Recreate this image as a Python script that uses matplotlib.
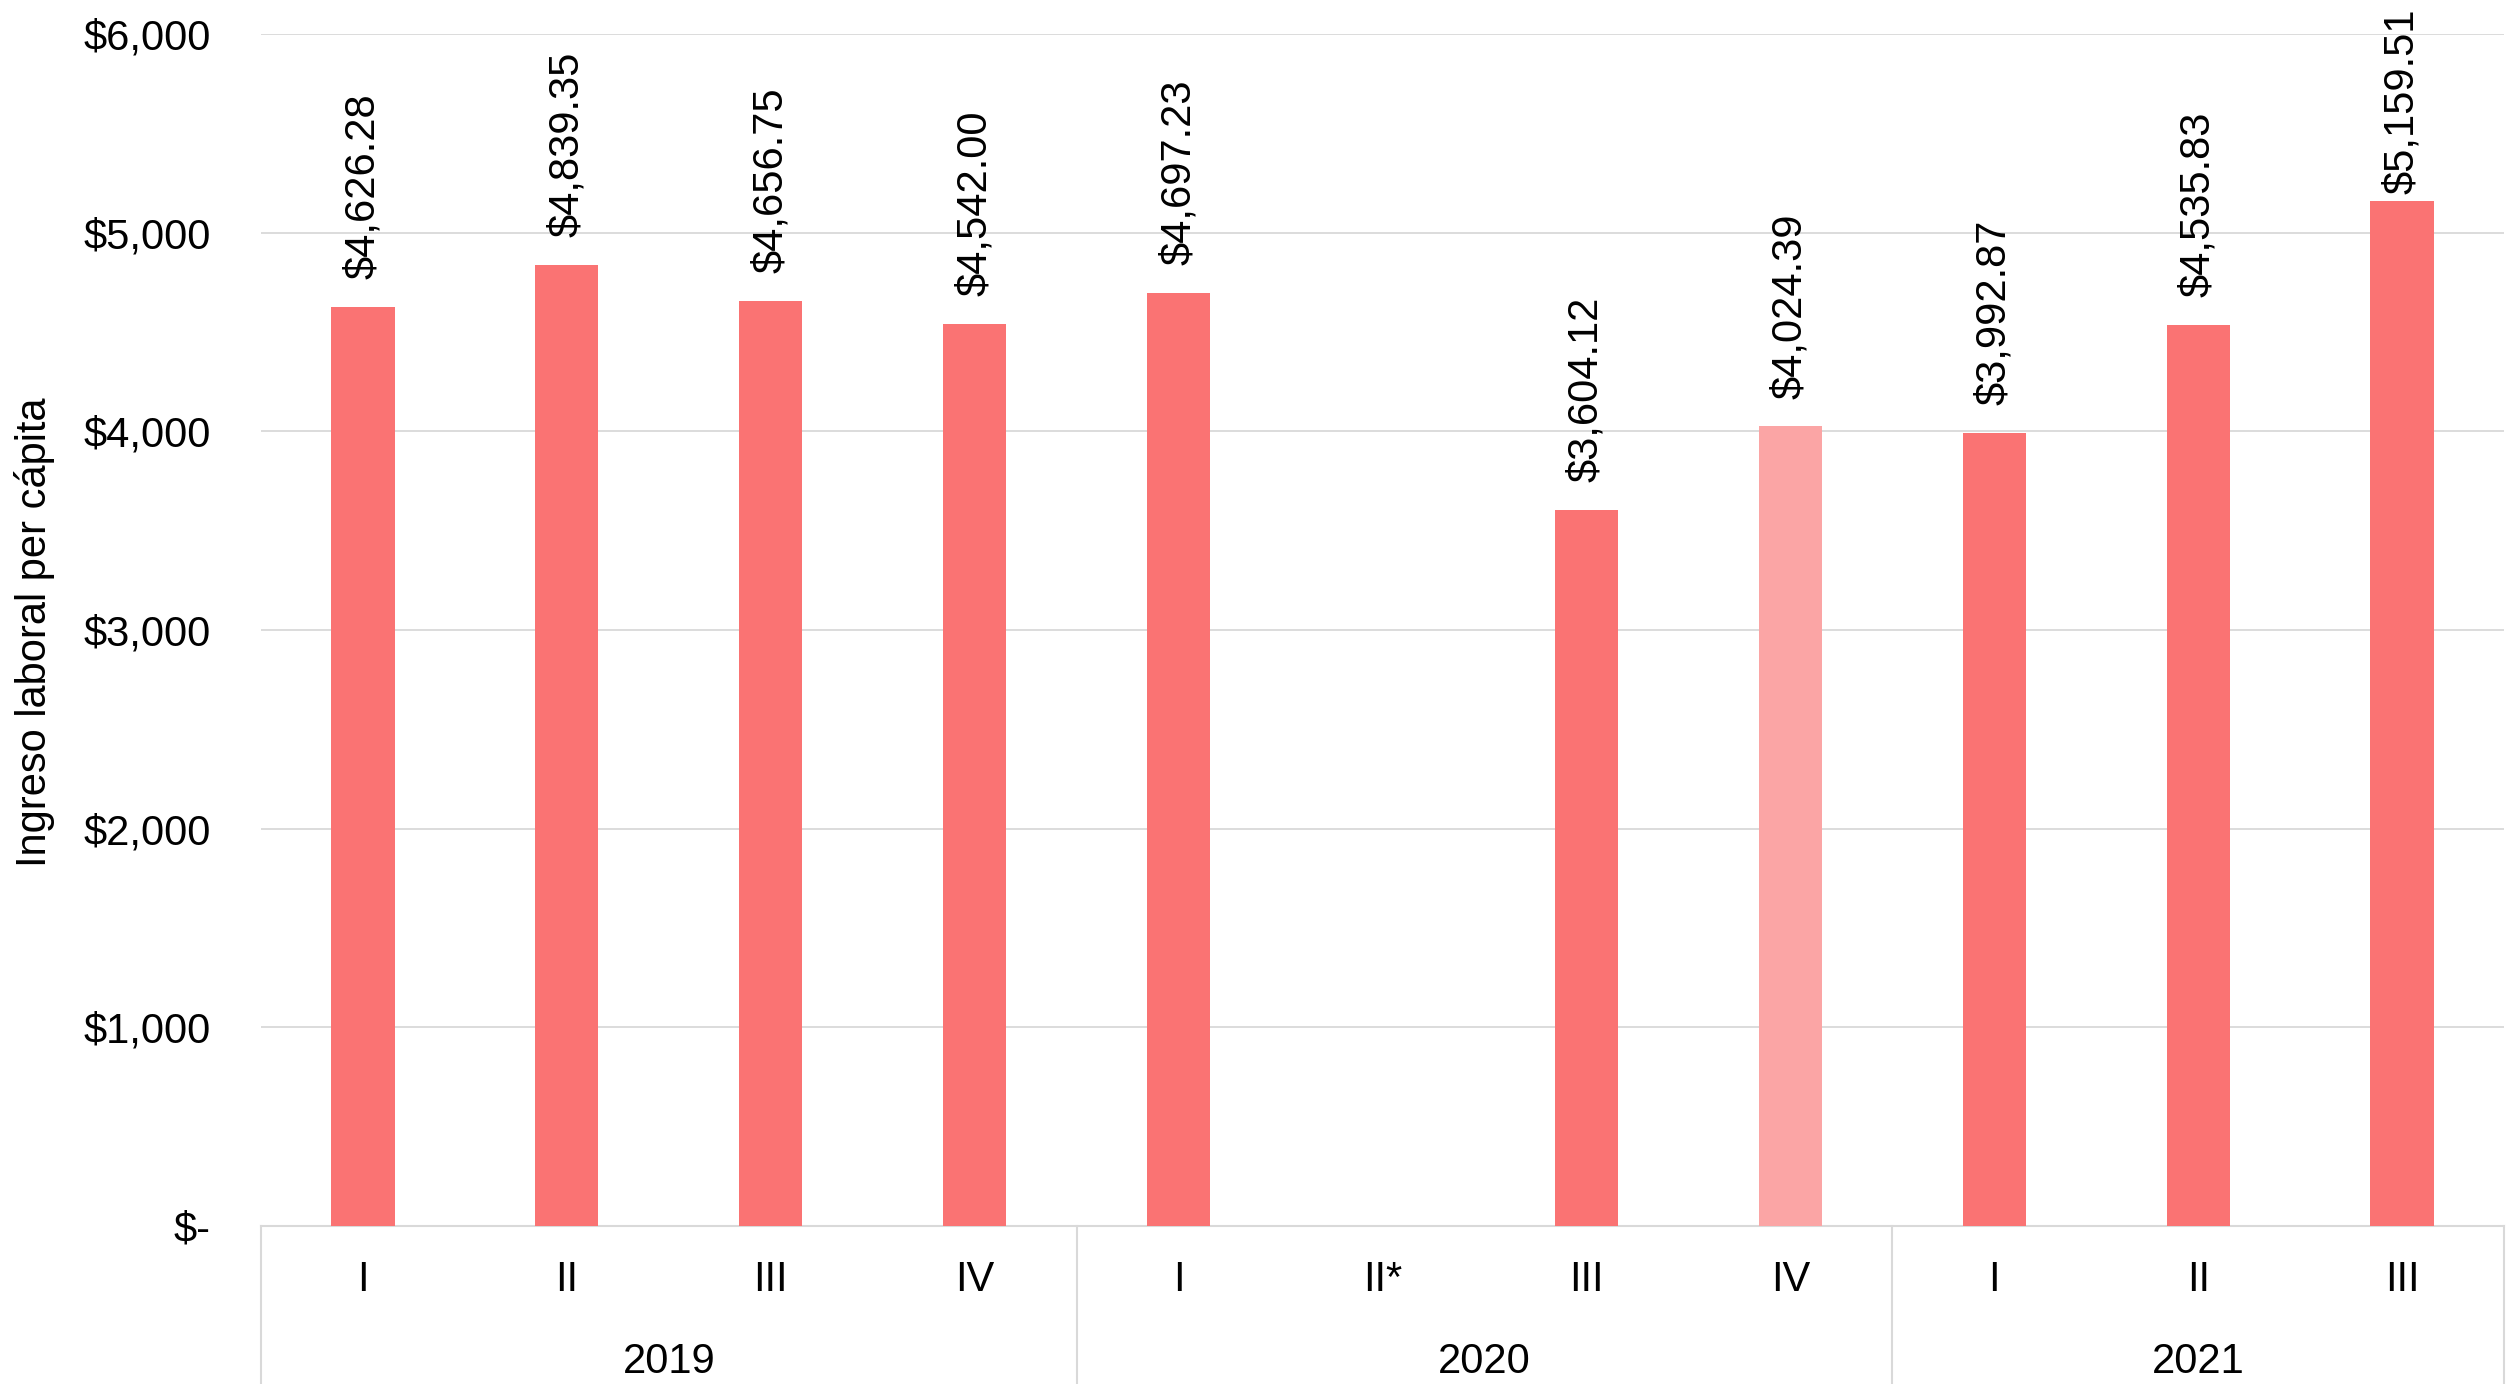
import numpy as np
import matplotlib
matplotlib.use("Agg")
import matplotlib.pyplot as plt
from matplotlib import font_manager
from matplotlib.ticker import FuncFormatter

# datos: ingreso laboral per capita por trimestre
years = ['2019', '2020', '2021']
quarters = ['I', 'II', 'III', 'IV', 'I', 'II*', 'III', 'IV', 'I', 'II', 'III']
quarter_year = [0, 0, 0, 0, 1, 1, 1, 1, 2, 2, 2]
values = [4626.28, 4839.35, 4656.75, 4542.00, 4697.23, np.nan,
          3604.12, 4024.39, 3992.87, 4535.83, 5159.51]
light = [False, False, False, False, False, False, False, True, False, False, False]

main_color = '#FA7373'
light_color = '#FBA5A5'
grid_color = '#D9D9D9'

# fuente angosta para etiquetas si existe
try:
    font_manager.findfont('Liberation Sans Narrow', fallback_to_default=False)
    label_font, label_size = 'Liberation Sans Narrow', 32
except Exception:
    label_font, label_size = 'Liberation Sans', 30

plt.rcParams['font.family'] = ['Liberation Sans', 'DejaVu Sans']

fig = plt.figure(figsize=(25.09, 13.84), dpi=100)
ax = fig.add_axes([261/2509, 1 - 1226/1384, (2504-261)/2509, (1226-34)/1384])

x = np.arange(len(values))
colors = [light_color if l else main_color for l in light]
ax.bar(x, np.nan_to_num(values), width=0.31, color=colors, zorder=3)

ax.set_xlim(-0.5, len(values) - 0.5)
ax.set_ylim(0, 6000)
ax.set_yticks(np.arange(0, 6001, 1000))
ax.yaxis.set_major_formatter(FuncFormatter(lambda v, p: '$-' if v == 0 else f'${v:,.0f}'))
ax.tick_params(axis='y', length=0, pad=36, labelsize=30)
ax.set_xticks([])
ax.grid(axis='y', color=grid_color, linewidth=1.3, zorder=0)
for s in ['top', 'right', 'left']:
    ax.spines[s].set_visible(False)
ax.spines['bottom'].set_color(grid_color)
ax.spines['bottom'].set_linewidth(1.5)

# etiquetas de datos
for xi, v in zip(x, values):
    if np.isnan(v):
        continue
    gap = 20 if v < 5000 else 5
    ax.annotate(f'${v:,.2f}', (xi, v), xytext=(0, gap), textcoords='offset points',
                rotation=90, ha='center', va='bottom', fontsize=label_size,
                family=[label_font, 'Liberation Sans'], annotation_clip=False)

# eje de categorias en dos niveles
trans = ax.get_xaxis_transform()
for xi, q in zip(x, quarters):
    ax.text(xi, -54/1192, q, transform=trans, ha='center', va='center', fontsize=30)
for i, yr in enumerate(years):
    idx = [k for k, g in enumerate(quarter_year) if g == i]
    ax.text((idx[0] + idx[-1]) / 2, -136/1192, yr, transform=trans,
            ha='center', va='center', fontsize=30)
bounds = [-0.5] + [k + 0.5 for k in range(len(quarter_year) - 1)
                   if quarter_year[k] != quarter_year[k + 1]] + [len(values) - 0.5]
for b in bounds:
    ax.plot([b, b], [0, -0.2], transform=trans, color=grid_color,
            linewidth=1.5, clip_on=False)

fig.text(35/2509, 1 - 632/1384, 'Ingreso laboral per cápita', rotation=90,
         ha='center', va='center', fontsize=30)

fig.savefig('out.png', dpi=100)
